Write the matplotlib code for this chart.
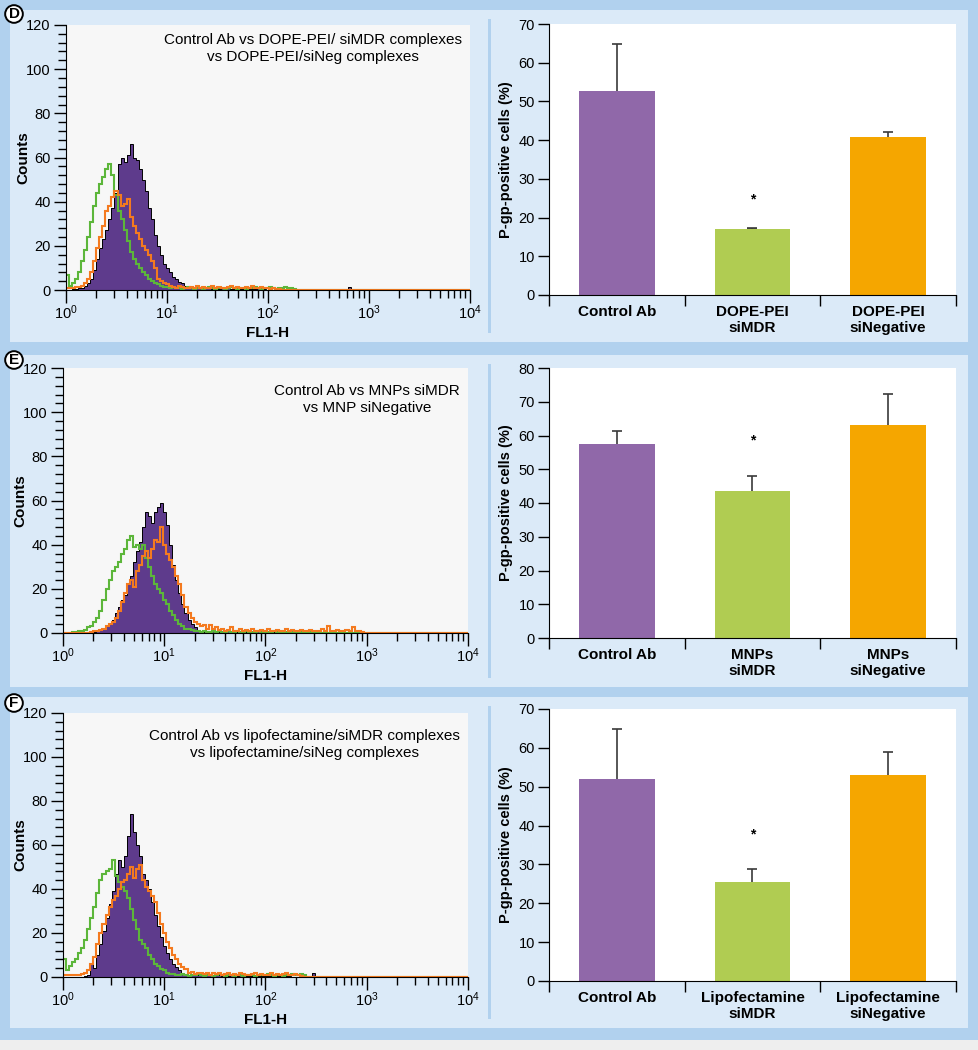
import numpy as np
import matplotlib
matplotlib.use('Agg')
import matplotlib.pyplot as plt
from matplotlib.patches import Rectangle
from matplotlib.ticker import MultipleLocator, LogLocator, NullFormatter

plt.rcParams['font.family'] = ['Liberation Sans', 'DejaVu Sans']
plt.rcParams['mathtext.fontset'] = 'custom'
plt.rcParams['mathtext.rm'] = 'Liberation Sans'

# ---- histogram data: counts per channel, channel i spans 10^(0.03*i) .. 10^(0.03*(i+1)) ----
channel_step = 0.03

d_control = [0, 0, 0.5, 0.5, 1, 1, 2, 3, 5, 9,
             14, 19, 23, 27, 32, 37, 44, 57, 60, 58,
             61, 66, 60, 59, 55, 50, 45, 37, 32, 25,
             20, 16, 12, 10, 8, 6, 5, 3.5, 3, 2,
             1.5, 1, 1.5, 1, 1, 0.5, 1, 1, 0.5, 1,
             0.5, 1, 0.5, 1, 0.5, 0.5, 1, 0.5, 0.5, 1,
             0.5, 0.5, 0.5, 1, 0.5, 0.5, 0, 0.5, 0, 0,
             0, 0, 0, 0, 0, 0, 0, 0, 0, 0,
             0, 0, 0, 0, 0, 0, 0, 0, 0, 0,
             0, 0, 0, 1.5, 0, 0, 0, 0, 0, 0]
d_simdr = [7, 2, 3, 5, 8, 13, 18, 24, 31, 38,
           44, 48, 51, 55, 57, 52, 43, 36, 32, 27,
           22, 17, 14, 12, 10, 8, 7, 5, 4, 3,
           2.5, 2, 1.5, 1.5, 1, 1.5, 1, 1, 0.5, 1,
           1.5, 1, 0.5, 1, 1, 0.5, 1, 1.5, 1, 0.5,
           1, 1, 0.5, 1, 1.5, 1, 0.5, 1, 1, 0.5,
           1, 1, 1.5, 1, 0.5, 1, 1, 1.5, 1, 0.5,
           1, 1, 1.5, 1, 1, 0.5, 0, 0, 0, 0,
           0, 0, 0, 0, 0, 0, 0, 0, 0, 0,
           0, 0, 0, 0, 0, 0, 0, 0, 0, 0]
d_sineg = [1, 1, 1, 1.5, 1.5, 2, 3, 5, 8, 13,
           19, 24, 29, 36, 38, 42, 45, 43, 38, 39,
           41, 33, 29, 26, 23, 20, 18, 16, 13, 10,
           5, 4, 3, 2.5, 2, 1.5, 1, 2, 1.5, 1,
           1, 1.5, 1, 2, 1, 1.5, 1, 1, 2, 1,
           1.5, 1, 1, 1.5, 2, 1, 1.5, 1, 1, 1.5,
           1, 2, 1, 1, 1.5, 1, 1, 0.5, 1, 0.5,
           0.5, 0, 0, 0, 0, 0, 0, 0, 0, 0,
           0, 0, 0, 0, 0, 0, 0, 0, 0, 0,
           0, 0, 0, 0, 0, 0, 0, 0, 0, 0]

e_control = [0, 0, 0, 0, 0, 0, 0, 0, 0, 0,
             0.5, 1, 1.5, 2, 3, 4, 6, 9, 12, 15,
             17, 22, 26, 32, 37, 41, 48, 55, 53, 50,
             55, 57, 59, 55, 49, 40, 31, 24, 18, 13,
             9, 6, 4, 2.5, 1.5, 1, 0.5, 1, 0.5, 1,
             1, 0.5, 1, 0.5, 1, 0.5, 1, 0.5, 0.5, 1,
             0.5, 1, 0.5, 0.5, 1, 0.5, 0.5, 1, 0.5, 0.5,
             1, 0.5, 0.5, 0.5, 1, 0.5, 0.5, 0.5, 1, 0.5,
             0.5, 0.5, 0.5, 1, 0.5, 0.5, 0.5, 0.5, 0.5, 0.5,
             0.5, 0.5, 0.5, 0, 0, 0, 0, 0, 0, 0]
e_simdr = [0, 0, 0, 0.5, 0.5, 1, 1, 1.5, 2.5, 3,
           5, 7, 10, 15, 20, 24, 28, 30, 32, 36,
           38, 42, 44, 39, 40, 38, 40, 34, 30, 26,
           22, 20, 18, 15, 13, 10, 8, 6, 4, 3,
           2, 2, 1.5, 1, 1, 0.5, 1, 0.5, 0.5, 1,
           0.5, 1, 0.5, 0.5, 1, 0.5, 0.5, 1, 0.5, 0.5,
           1, 0.5, 0.5, 0.5, 1, 0.5, 0.5, 0.5, 0.5, 1,
           0.5, 0.5, 0.5, 0.5, 0.5, 0.5, 0.5, 0.5, 0.5, 0.5,
           0.5, 0.5, 0.5, 0.5, 0.5, 0, 0, 0, 0, 0,
           0, 0, 0, 0, 0, 0, 0, 0, 0, 0]
e_sineg = [0, 0, 0, 0, 0, 0, 0, 0, 0, 0.5,
           1, 1, 1.5, 2, 3, 4, 5, 7, 10, 14,
           18, 22, 24, 21, 28, 31, 35, 37, 34, 38,
           42, 41, 48, 40, 36, 33, 30, 26, 22, 17,
           12, 9, 7, 5, 4, 3, 3.5, 2, 3.5, 2,
           2.5, 1.5, 2, 1, 1.5, 2.5, 1, 1, 2, 1,
           1.5, 1, 2, 1, 1, 1.5, 1, 2, 1, 1,
           1.5, 1, 1, 2, 1, 1.5, 1, 1, 1.5, 1,
           1, 1.5, 1, 1, 1, 2, 1, 3, 1, 1,
           1.5, 1, 1, 1.5, 1, 2.5, 1, 1, 0.5, 0]

f_control = [0, 0, 0, 0, 0, 0, 0, 0.5, 1, 6,
             4, 10, 15, 21, 27, 33, 39, 47, 53, 50,
             55, 64, 74, 66, 60, 55, 47, 44, 40, 34,
             28, 23, 18, 14, 11, 8, 6, 4.5, 3, 2,
             1.5, 1, 1, 1.5, 1, 1, 0.5, 1, 1, 0.5,
             1, 1, 0.5, 1, 0.5, 1, 0.5, 0.5, 1, 0.5,
             0.5, 0.5, 0.5, 0.5, 0.5, 0.5, 0.5, 0.5, 0.5, 0.5,
             0.5, 0.5, 0.5, 0.5, 0.5, 0, 0, 0, 0, 0,
             0, 0, 2, 0, 0, 0, 0, 0, 0, 0,
             0, 0, 0, 0, 0, 0, 0, 0, 0, 0]
f_simdr = [8, 3, 5, 7, 8, 11, 13, 17, 22, 27,
           32, 38, 44, 47, 48, 49, 53, 46, 43, 41,
           39, 36, 31, 26, 22, 17, 15, 13, 10, 8,
           6, 5, 3.5, 3, 2, 1.5, 1.5, 1, 1, 1.5,
           1, 0.5, 1, 1, 1.5, 1, 0.5, 1, 1, 0.5,
           1, 1.5, 1, 0.5, 1, 1, 0.5, 1, 1, 0.5,
           1, 1, 1, 0.5, 1, 1, 1, 1.5, 1, 0.5,
           1, 1, 0.5, 1, 1, 1.5, 1, 1, 1.5, 1,
           0, 0, 0, 0, 0, 0, 0, 0, 0, 0,
           0, 0, 0, 0, 0, 0, 0, 0, 0, 0]
f_sineg = [1, 1, 1, 1, 1, 1, 1.5, 2, 3, 6,
           9, 15, 20, 24, 28, 32, 35, 37, 40, 43,
           44, 47, 50, 45, 49, 51, 44, 41, 39, 37,
           34, 29, 24, 20, 16, 13, 10, 8, 6, 4.5,
           3.5, 2, 2.5, 1.5, 2, 2, 1.5, 2, 1, 2,
           1.5, 2, 1, 1.5, 2, 1, 1.5, 1, 2, 1.5,
           1, 1, 1.5, 2, 1, 1.5, 1, 1, 2, 1,
           1.5, 1, 1.5, 2, 1, 1, 1.5, 1, 0.5, 0,
           0, 0, 0, 0, 0, 0, 0, 0, 0, 0,
           0, 0, 0, 0, 0, 0, 0, 0, 0, 0]

d_note = 'Control Ab vs DOPE-PEI/ siMDR complexes\nvs DOPE-PEI/siNeg complexes'
e_note = 'Control Ab vs MNPs siMDR\nvs MNP siNegative'
f_note = 'Control Ab vs lipofectamine/siMDR complexes\nvs lipofectamine/siNeg complexes'

# ---- bar data: mean and error (% P-gp-positive cells) ----
d_labels = ['Control Ab', 'DOPE-PEI\nsiMDR', 'DOPE-PEI\nsiNegative']
d_means = [52.6, 17.1, 40.9]
d_errs = [12.3, 0.1, 1.1]
d_star = 24.6

e_labels = ['Control Ab', 'MNPs\nsiMDR', 'MNPs\nsiNegative']
e_means = [57.5, 43.7, 63.0]
e_errs = [3.9, 4.4, 9.3]
e_star = 58.4

f_labels = ['Control Ab', 'Lipofectamine\nsiMDR', 'Lipofectamine\nsiNegative']
f_means = [52.1, 25.5, 53.0]
f_errs = [12.8, 3.4, 5.85]
f_star = 37.6

# colours
dark_blue = '#b1d1ee'
light_blue = '#dbeaf8'
hist_bg = '#f7f7f7'
hist_purple = '#5e3b8c'
hist_green = '#5cb63a'
hist_orange = '#f47a1f'
bar_colors = ['#9068a9', '#b0cc52', '#f5a600']

W, H = 979, 1050
fig = plt.figure(figsize=(W / 100, H / 100), dpi=100)
fig.patch.set_facecolor(dark_blue)


def px_rect(x0, y0, x1, y1):
    return [x0 / W, 1 - y1 / H, (x1 - x0) / W, (y1 - y0) / H]


def draw_hist(ax, control, simdr, sineg, note, note_y):
    n = int(round(4.02 / channel_step))
    edges = 10 ** (np.arange(n + 1) * channel_step)
    pad = lambda v: np.concatenate([v, np.zeros(n - len(v))])
    ax.set_facecolor(hist_bg)
    ax.stairs(pad(control), edges, fill=True, color=hist_purple, zorder=1)
    ax.stairs(pad(control), edges, color='black', lw=0.7, zorder=1.5)
    ax.stairs(pad(simdr), edges, color=hist_green, lw=1.5, zorder=2)
    ax.stairs(pad(sineg), edges, color=hist_orange, lw=1.5, zorder=2.2)
    ax.set_xscale('log')
    ax.set_xlim(1, 1e4)
    ax.set_ylim(0, 120)
    for s in ['top', 'right']:
        ax.spines[s].set_visible(False)
    ax.yaxis.set_major_locator(MultipleLocator(20))
    ax.yaxis.set_minor_locator(MultipleLocator(4))
    ax.xaxis.set_major_locator(LogLocator(base=10, numticks=10))
    ax.xaxis.set_minor_locator(LogLocator(base=10, subs=np.arange(2, 10), numticks=40))
    ax.xaxis.set_minor_formatter(NullFormatter())
    ax.tick_params(which='major', length=9, width=1, labelsize=10.5, pad=2)
    ax.tick_params(axis='x', which='major', pad=1)
    ax.tick_params(which='minor', length=6, width=1)
    ax.set_ylabel('Counts', fontweight='bold', fontsize=11)
    ax.yaxis.set_label_coords(-36 / 404, 0.5)
    ax.set_xlabel('FL1-H', fontweight='bold', fontsize=11)
    ax.xaxis.set_label_coords(0.5, -0.135)
    ax.text(0.98, note_y, note, transform=ax.transAxes, ha='right', va='top',
            multialignment='center', fontsize=11, linespacing=1.25)


def draw_bars(ax, labels, means, errs, star, ymax):
    x = np.arange(len(means))
    # error bars sit behind the bars, so only the upper half shows
    ax.errorbar(x, means, yerr=errs, fmt='none', ecolor='#3a3a3a',
                elinewidth=1.2, capsize=3.5, capthick=1.2, zorder=1)
    ax.bar(x, means, width=0.56, color=bar_colors, zorder=2)
    ax.text(1, star, '*', ha='center', va='center', fontsize=10, fontweight='bold')
    ax.set_xlim(-0.5, 2.5)
    ax.set_ylim(0, ymax)
    for s in ['top', 'right']:
        ax.spines[s].set_visible(False)
    ax.set_xticks(x)
    ax.set_xticklabels(labels, fontweight='bold', fontsize=11, linespacing=1.2)
    ax.set_xticks([-0.5, 0.5, 1.5, 2.5], minor=True)
    ax.tick_params(axis='x', which='major', length=0, pad=7)
    ax.tick_params(axis='x', which='minor', length=8, width=1)
    ax.yaxis.set_major_locator(MultipleLocator(10))
    ax.tick_params(axis='y', length=8, width=1, labelsize=10.5, pad=2)
    ax.set_ylabel('P-gp-positive cells (%)', fontweight='bold', fontsize=10.5)
    ax.yaxis.set_label_coords(-0.088, 0.5)


rows = [
    dict(letter='D', panel=(10, 342), letter_y=14,
         hist=(66, 25, 470, 290), bar=(549, 24, 956, 295),
         data=(d_control, d_simdr, d_sineg, d_note), note_y=0.97,
         bars=(d_labels, d_means, d_errs, d_star, 70)),
    dict(letter='E', panel=(355, 687), letter_y=360,
         hist=(63, 368, 468, 633), bar=(549, 368, 956, 638),
         data=(e_control, e_simdr, e_sineg, e_note), note_y=0.94,
         bars=(e_labels, e_means, e_errs, e_star, 80)),
    dict(letter='F', panel=(697, 1028), letter_y=703,
         hist=(63, 713, 468, 977), bar=(549, 709, 956, 981),
         data=(f_control, f_simdr, f_sineg, f_note), note_y=0.94,
         bars=(f_labels, f_means, f_errs, f_star, 70)),
]

fig.add_artist(Rectangle((0, 0), 1, 10 / H, transform=fig.transFigure,
                         fc='#eeeeee', ec='none', zorder=-2))

for r in rows:
    top, bottom = r['panel']
    fig.add_artist(Rectangle((10 / W, 1 - bottom / H), 958 / W, (bottom - top) / H,
                             transform=fig.transFigure, fc=light_blue, ec='none', zorder=-2))
    fig.add_artist(Rectangle((488 / W, 1 - (bottom - 9) / H), 3 / W, (bottom - top - 18) / H,
                             transform=fig.transFigure, fc=dark_blue, ec='none', zorder=-1))

    ax_h = fig.add_axes(px_rect(*r['hist']))
    control, simdr, sineg, note = r['data']
    draw_hist(ax_h, control, simdr, sineg, note, r['note_y'])

    ax_b = fig.add_axes(px_rect(*r['bar']))
    labels, means, errs, star, ymax = r['bars']
    draw_bars(ax_b, labels, means, errs, star, ymax)

    fig.text(14 / W, 1 - r['letter_y'] / H, r['letter'], ha='center', va='center',
             fontsize=11, fontweight='bold', zorder=10,
             bbox=dict(boxstyle='circle,pad=0.12', fc='white', ec='black', lw=1.4))

fig.savefig('out.png', dpi=100, facecolor=fig.get_facecolor())
